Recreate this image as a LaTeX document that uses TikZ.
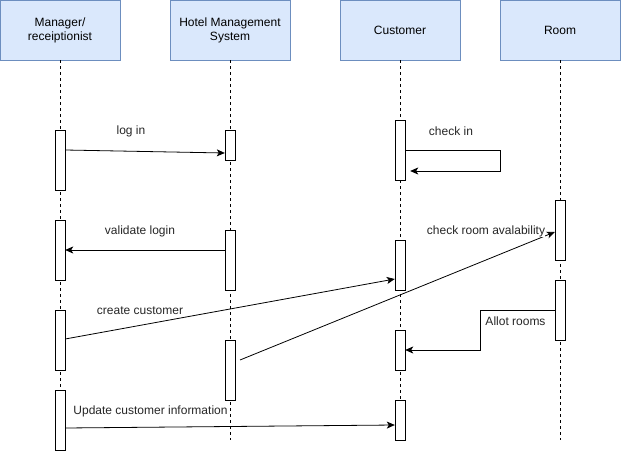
\documentclass[tikz,border=0pt]{standalone}
\usepackage{fontspec}
\setmainfont{Liberation Sans}
\usetikzlibrary{arrows.meta}
\definecolor{hdrfill}{HTML}{DAE8FC}
\definecolor{hdrdraw}{HTML}{6C8EBF}
\tikzset{
  hdr/.style={draw=hdrdraw, fill=hdrfill, minimum width=120pt, minimum height=60pt, inner sep=0pt, align=center, font=\fontsize{12}{14}\selectfont},
  bar/.style={draw=black, fill=white, minimum width=10pt, inner sep=0pt},
  life/.style={draw=black, dash pattern=on 3pt off 3pt, line width=0.8pt},
  msg/.style={draw=black, line width=0.8pt, -{Stealth[length=8pt,width=7pt,inset=2pt]}},
  lbl/.style={font=\fontsize{12}{14}\selectfont, inner sep=0pt, text=black!85}
}
\begin{document}
\begin{tikzpicture}[x=1pt,y=-1pt]
\useasboundingbox (0,0) rectangle (621,452);
% headers
\node[hdr] (mgr) at (60,30) {Manager/\\receiptionist};
\node[hdr] (hms) at (230,30) {Hotel Management\\System};
\node[hdr] (cus) at (400,30) {Customer};
\node[hdr] (room) at (560,30) {Room};
% lifeline ends
\coordinate (mgrend) at (60,450);
\coordinate (hmsend) at (230,440);
\coordinate (cusend) at (400,440);
\coordinate (roomend) at (560,440);
\draw[life] (mgr.south) -- (mgrend);
\draw[life] (hms.south) -- (hmsend);
\draw[life] (cus.south) -- (cusend);
\draw[life] (room.south) -- (roomend);
% activation bars
\node[bar, minimum height=60pt] (m1) at (60,160) {};
\node[bar, minimum height=60pt] (m2) at (60,250) {};
\node[bar, minimum height=60pt] (m3) at (60,340) {};
\node[bar, minimum height=60pt] (m4) at (60,420) {};
\node[bar, minimum height=30pt] (h1) at (230,145) {};
\node[bar, minimum height=60pt] (h2) at (230,260) {};
\node[bar, minimum height=60pt] (h3) at (230,370) {};
\node[bar, minimum height=60pt] (c1) at (400,150) {};
\node[bar, minimum height=50pt] (c2) at (400,265) {};
\node[bar, minimum height=40pt] (c3) at (400,350) {};
\node[bar, minimum height=40pt] (c4) at (400,420) {};
\node[bar, minimum height=60pt] (r1) at (560,230) {};
\node[bar, minimum height=60pt] (r2) at (560,310) {};
% messages
\draw[msg] (m1.east |- 0,150) -- (h1.west |- 0,153);
\node[lbl] (llogin) at (131,131) {log in};
\coordinate (ci1) at (500,150);
\coordinate (ci2) at (500,171);
\draw[msg] (c1.east |- ci1) -- (ci1) -- (ci2) -- ([xshift=5pt]c1.east |- ci2);
\node[lbl] (lcheckin) at (451,131) {check in};
\draw[msg] (h2.west |- 0,250) -- (m2.east |- 0,250);
\node[lbl] (lvalid) at (140,231) {validate login};
\draw[msg] (m3.east |- 0,339) -- (c2.west |- 0,279);
\node[lbl] (lcreate) at (140,311) {create customer};
\coordinate (crstart) at (240,360);
\draw[msg] (crstart) -- (r1.west |- 0,232);
\node[lbl, fill=white] (lcheckroom) at (486,231.5) {check room avalability};
\coordinate (al1) at (480.5,310.5);
\coordinate (al2) at (480.5,350);
\draw[msg] (r2.west |- al1) -- (al1) -- (al2) -- (c3.east |- al2);
\node[lbl] (lallot) at (515.5,321) {Allot rooms};
\draw[msg] (m4.east |- 0,428) -- (c4.west |- 0,425);
\node[lbl] (lupdate) at (150.5,411) {Update customer information};
\end{tikzpicture}
\end{document}
